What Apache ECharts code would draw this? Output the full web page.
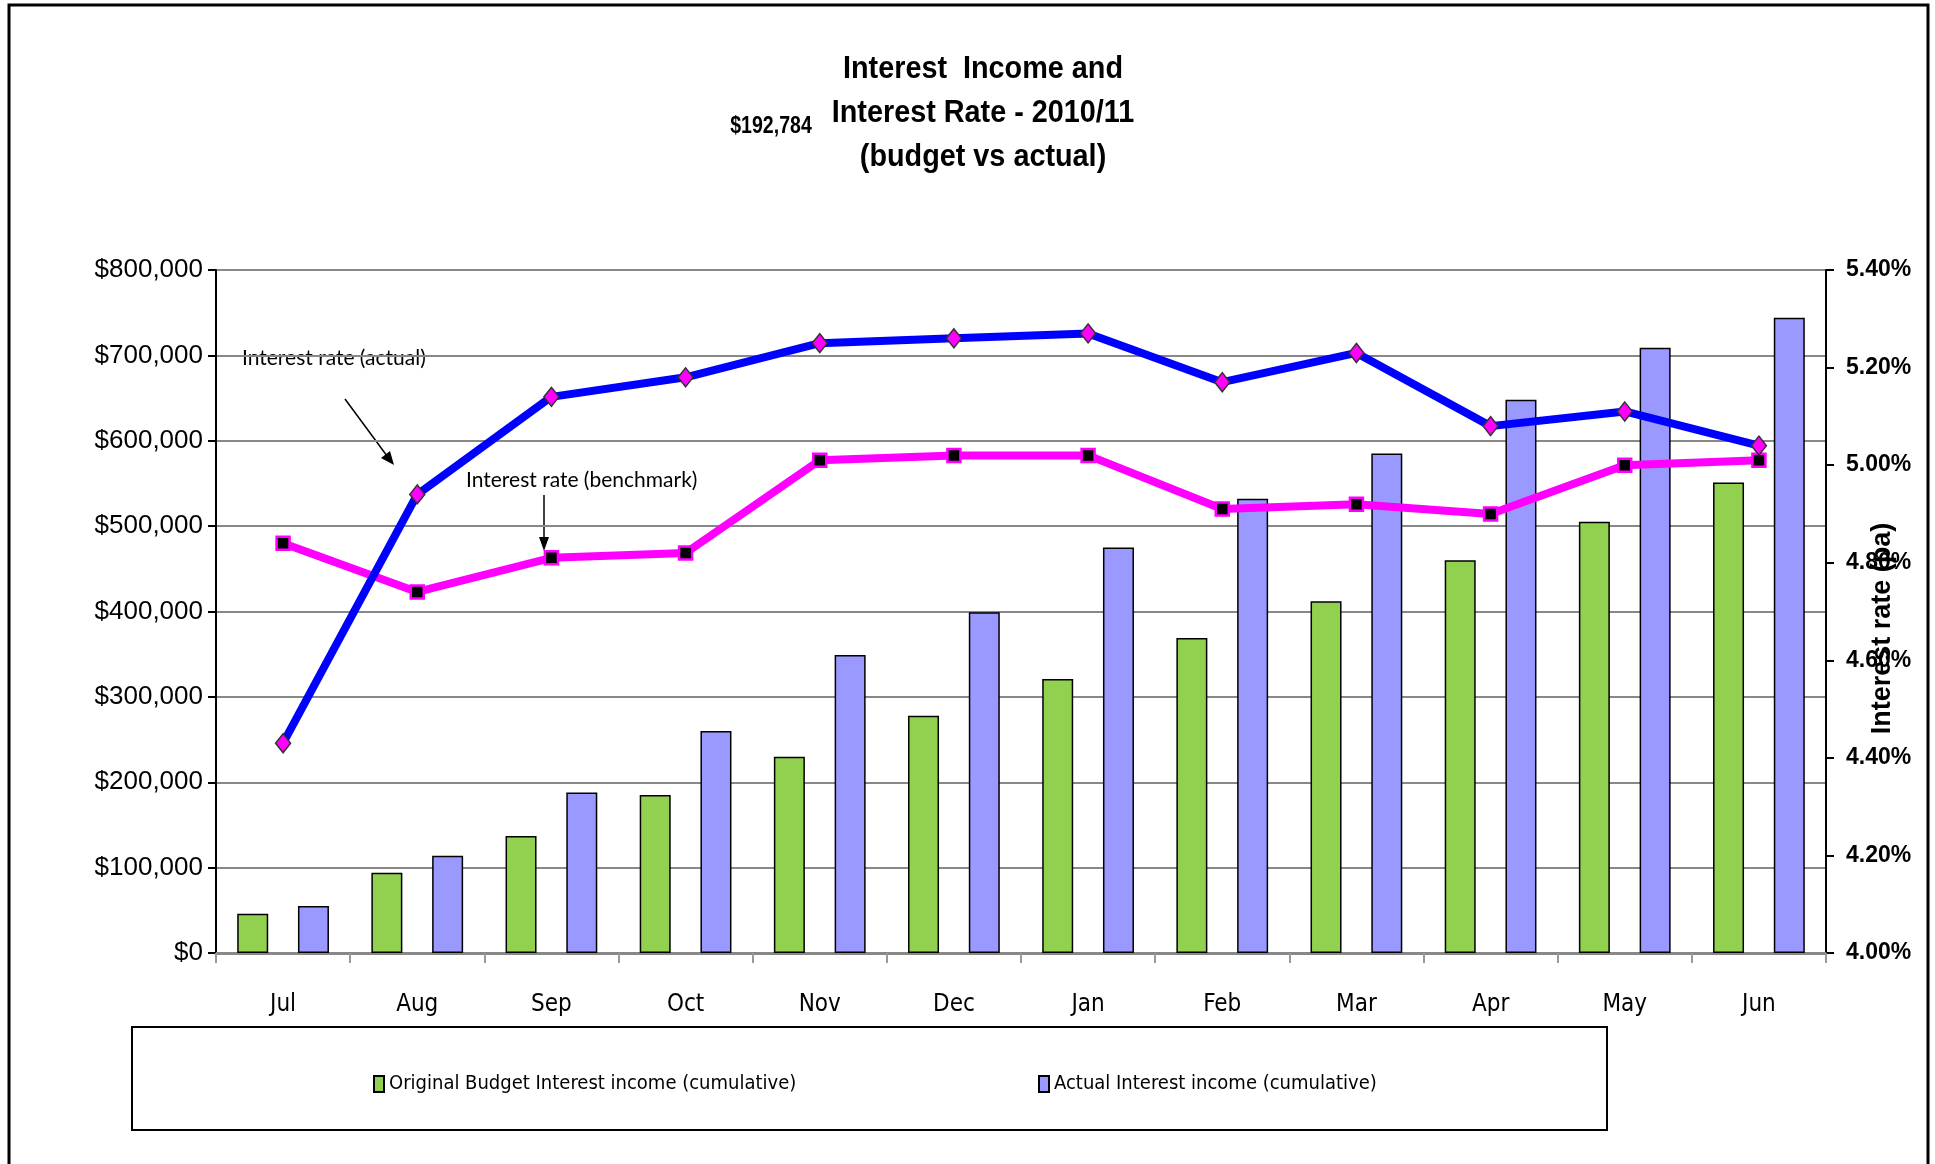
<!DOCTYPE html>
<html>
<head>
<meta charset="utf-8">
<script src="https://cdn.jsdelivr.net/npm/echarts@6/dist/echarts.min.js"></script>
<style>
html,body{margin:0;padding:0;background:#fff;}
#chart{width:1935px;height:1164px;}
</style>
</head>
<body>
<div id="chart"></div>
<script>
const months = ['Jul','Aug','Sep','Oct','Nov','Dec','Jan','Feb','Mar','Apr','May','Jun'];
const budgetIncome = [46000,94000,137000,185000,230000,278000,321000,369000,412000,460000,505000,551000];
const actualIncome = [55000,114000,188000,260000,349000,399000,475000,532000,585000,648000,709000,744000];
const rateActual = [4.43,4.94,5.14,5.18,5.25,5.26,5.27,5.17,5.23,5.08,5.11,5.04];
const rateBenchmark = [4.84,4.74,4.81,4.82,5.01,5.02,5.02,4.91,4.92,4.90,5.00,5.01];

const titleText = 'Interest  Income and\nInterest Rate - 2010/11\n(budget vs actual)';
const sideNote = '$192,784';
const budgetName = 'Original Budget Interest income (cumulative)';
const actualName = 'Actual Interest income (cumulative)';
const rateActualName = 'Interest rate (actual)';
const rateBenchName = 'Interest rate (benchmark)';
const rightAxisName = 'Interest rate (pa)';

const NARROW = "'Liberation Sans Narrow','Arial Narrow','DejaVu Sans Condensed',sans-serif";
const ARIAL = "'Liberation Sans',Arial,sans-serif";
const CALIBRI = "Lato,'Liberation Sans',sans-serif";

const chart = echarts.init(document.getElementById('chart'), null, {renderer:'canvas'});

function money(v){ return '$' + Math.round(v).toLocaleString('en-US'); }

const option = {
  animation: false,
  backgroundColor: '#ffffff',
  grid: {left: 216, right: 109, top: 270, bottom: 211, containLabel: false, outerBoundsMode: 'none'},
  legend: [
    {data: [budgetName], left: 368, top: 1069, itemWidth: 10, itemHeight: 16, icon: 'rect',
     textStyle: {fontFamily: NARROW, fontSize: 20, color: '#000'}},
    {data: [actualName], left: 1033, top: 1069, itemWidth: 10, itemHeight: 16, icon: 'rect',
     textStyle: {fontFamily: NARROW, fontSize: 20, color: '#000'}}
  ],
  xAxis: {
    type: 'category', data: months,
    axisLine: {lineStyle: {color: '#888', width: 3}},
    axisTick: {show: true, interval: 0, length: 10, lineStyle: {color: '#999', width: 2}},
    axisLabel: {fontFamily: NARROW, fontSize: 24, color: '#000', margin: 40}
  },
  yAxis: [
    {type: 'value', min: 0, max: 800000, interval: 100000, position: 'left',
     axisLine: {show: true, lineStyle: {color: '#000', width: 2}},
     axisTick: {show: true, length: 8, lineStyle: {color: '#000', width: 2}},
     splitLine: {show: true, lineStyle: {color: '#888', width: 2}},
     axisLabel: {fontFamily: ARIAL, fontSize: 26, color: '#000', margin: 13, formatter: money}},
    {type: 'value', min: 4.0, max: 5.4, interval: 0.2, position: 'right',
     name: rightAxisName, nameLocation: 'middle', nameRotate: 90, nameGap: 43, nameMoveOverlap: false,
     nameTextStyle: {fontFamily: ARIAL, fontSize: 27, fontWeight: 'bold', color: '#000', padding: [0, 34, 0, 0]},
     axisLine: {show: true, lineStyle: {color: '#000', width: 2}},
     axisTick: {show: true, length: 8, lineStyle: {color: '#000', width: 2}},
     splitLine: {show: false},
     axisLabel: {fontFamily: ARIAL, fontSize: 23, fontWeight: 'bold', color: '#000', margin: 20,
       formatter: v => v.toFixed(2) + '%'}}
  ],
  series: [
    {name: budgetName, type: 'bar', data: budgetIncome, barWidth: 31, barGap: '96%',
     itemStyle: {color: '#92D050', borderColor: '#000', borderWidth: 1.5}},
    {name: actualName, type: 'bar', data: actualIncome, barWidth: 31,
     itemStyle: {color: '#9999FF', borderColor: '#000', borderWidth: 1.5}},
    {name: rateActualName, type: 'line', yAxisIndex: 1, data: rateActual,
     lineStyle: {color: '#0000FF', width: 8}, symbol: 'diamond', symbolSize: [15, 19],
     itemStyle: {color: '#FF00FF', borderColor: '#333', borderWidth: 1.5}, z: 5},
    {name: rateBenchName, type: 'line', yAxisIndex: 1, data: rateBenchmark,
     lineStyle: {color: '#FF00FF', width: 8}, symbol: 'rect', symbolSize: 13,
     itemStyle: {color: '#000', borderColor: '#FF00FF', borderWidth: 2.5}, z: 4}
  ],
  graphic: [
    {type: 'rect', shape: {x: 9, y: 5, width: 1919, height: 1175}, silent: true,
     style: {fill: 'none', stroke: '#000', lineWidth: 3}},
    {type: 'rect', shape: {x: 132, y: 1027, width: 1475, height: 103}, silent: true,
     style: {fill: 'none', stroke: '#000', lineWidth: 2}},
    {type: 'text', x: 983, y: 47, scaleX: 0.9, style: {text: titleText, fontFamily: ARIAL, fontSize: 32,
     fontWeight: 'bold', fill: '#000', textAlign: 'center', lineHeight: 44}},
    {type: 'text', x: 771, y: 115, scaleX: 0.85, style: {text: sideNote, fontFamily: ARIAL, fontSize: 23,
     fontWeight: 'bold', fill: '#000', textAlign: 'center'}},
    {type: 'text', x: 242, y: 348, style: {text: rateActualName, fontFamily: CALIBRI, fontSize: 21, fill: '#000'}},
    {type: 'line', shape: {x1: 345, y1: 399, x2: 390, y2: 460}, style: {stroke: '#000', lineWidth: 1.5}},
    {type: 'polygon', shape: {points: [[394, 465], [381, 458], [390, 451]]}, style: {fill: '#000'}},
    {type: 'text', x: 466, y: 470, style: {text: rateBenchName, fontFamily: CALIBRI, fontSize: 21, fill: '#000'}},
    {type: 'line', shape: {x1: 544, y1: 495, x2: 544, y2: 540}, style: {stroke: '#000', lineWidth: 1.5}},
    {type: 'polygon', shape: {points: [[544, 551], [539, 537], [549, 537]]}, style: {fill: '#000'}}
  ]
};
chart.setOption(option);
</script>
</body>
</html>
